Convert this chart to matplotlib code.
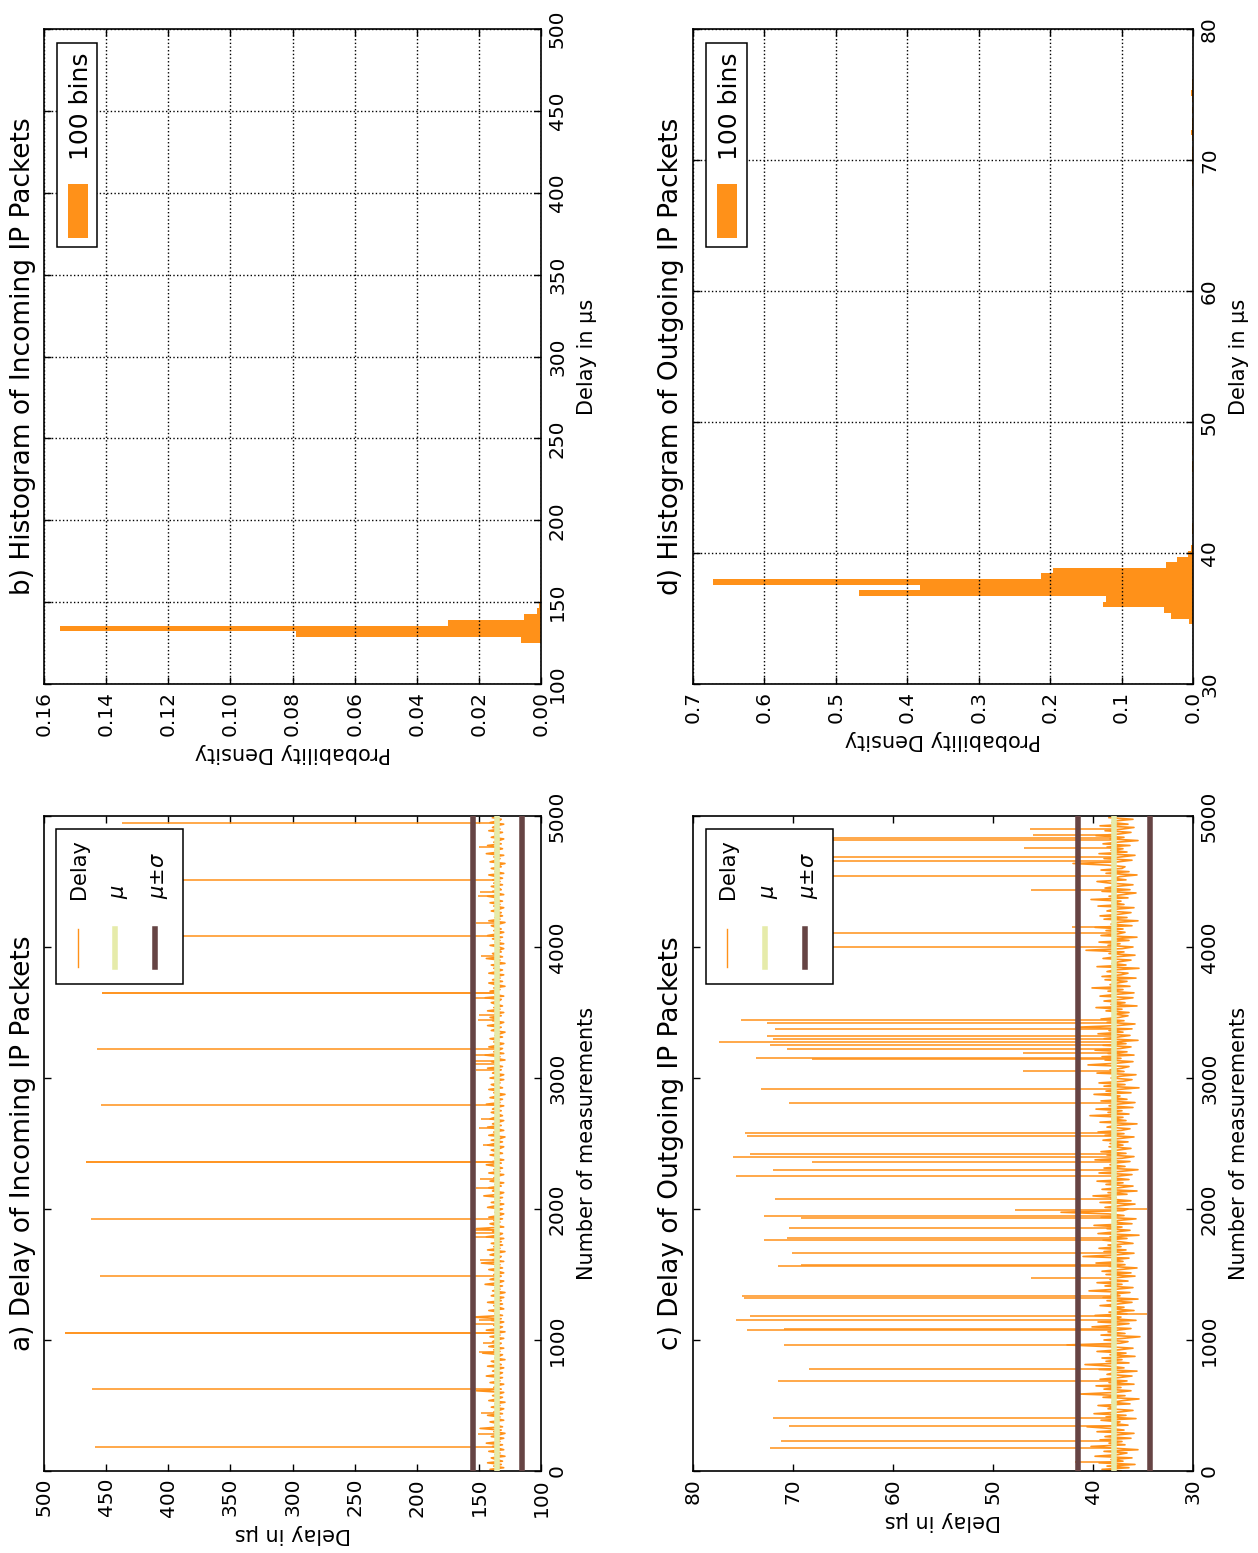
import numpy as np
import matplotlib
matplotlib.use('Agg')
import matplotlib.pyplot as plt
from matplotlib.patches import Rectangle
from matplotlib.lines import Line2D
from matplotlib.ticker import FormatStrFormatter

plt.rcParams['font.family'] = ['DejaVu Sans']

# ---------------- data ----------------
band_in = [
    134, 141, 130, 138, 132, 143, 131, 136, 140, 129, 137, 133, 142, 130, 135, 139, 131, 144, 133, 136,
    130, 140, 134, 129, 138, 132, 149, 131, 137, 135, 141, 130, 136, 133, 143, 131, 138, 134, 130, 140,
    133, 137, 129, 142, 135, 131, 139, 134, 130, 152, 132, 138, 136, 130, 141, 133, 137, 131, 144, 134,
    131, 139, 135, 130, 143, 132, 136, 140, 129, 137, 134, 131, 147, 133, 138, 130, 142, 135, 132, 139,
    136, 130, 141, 133, 137, 129, 144, 134, 131, 138, 135, 130, 140, 132, 155, 131, 137, 134, 142, 130,
    134, 138, 131, 143, 132, 136, 130, 140, 135, 129, 139, 133, 137, 131, 145, 134, 130, 141, 136, 132,
    138, 130, 135, 142, 131, 137, 133, 148, 130, 139, 134, 132, 141, 136, 129, 143, 133, 138, 131, 140,
    132, 137, 130, 144, 134, 131, 139, 135, 152, 130, 136, 141, 133, 138, 131, 142, 134, 130, 137, 135,
    131, 143, 136, 130, 140, 133, 137, 131, 146, 134, 130, 139, 135, 142, 132, 137, 130, 141, 134, 138,
    135, 130, 142, 133, 138, 131, 136, 144, 132, 139, 130, 137, 134, 141, 131, 136, 140, 133, 130, 143,
    137, 131, 140, 133, 129, 142, 135, 138, 130, 136, 143, 132, 139, 134, 130, 141, 137, 131, 135, 140,
    132, 139, 136, 130, 144, 133, 137, 131, 141, 135, 129, 138, 134, 142, 131, 136, 140, 133, 137, 130,
    141, 134, 130, 139, 136, 132, 143, 131, 137, 135, 140, 129, 136, 133, 145, 130, 138, 134, 131, 142,
    135, 130, 138, 134, 141, 131, 137, 133, 129, 140, 136, 132, 143, 134, 130, 139, 135, 141, 132, 137,
    130, 143, 133, 138, 131, 136, 140, 134, 132, 145, 130, 137, 135, 141, 133, 138, 129, 136, 142, 131,
    139, 133, 136, 130, 142, 135, 131, 138, 134, 140, 129, 137, 133, 144, 131, 136, 139, 132, 135, 130,
    134, 141, 130, 137, 133, 139, 131, 143, 135, 130, 138, 132, 136, 140, 134, 129, 142, 133, 137, 131,
    136, 132, 140, 134, 130, 138, 133, 141, 131, 137, 135, 143, 130, 136, 139, 132, 134, 140, 131, 138,
    133, 139, 131, 136, 142, 130, 137, 134, 140, 132, 135, 129, 141, 136, 133, 138, 130, 144, 134, 137,
    131, 136, 143, 132, 138, 134, 130, 140, 135, 137, 131, 142, 133, 139, 136, 130, 141, 134, 132, 139]

band_out = [
    37.2, 39.1, 36.4, 38.6, 35.8, 39.4, 37.0, 38.2, 36.1, 39.8, 37.5, 36.6, 38.9, 35.5, 38.1, 40.2, 36.8, 38.4, 37.1, 39.3,
    36.2, 38.8, 37.6, 35.9, 39.6, 36.9, 38.3, 40.6, 36.5, 38.0, 37.3, 39.2, 35.7, 38.7, 36.7, 39.9, 37.4, 36.0, 38.5, 37.8,
    39.5, 36.3, 38.1, 37.0, 35.4, 39.0, 36.8, 41.3, 37.7, 36.2, 38.9, 37.2, 39.7, 35.9, 38.4, 36.6, 39.3, 37.5, 36.1, 38.6,
    37.9, 35.6, 39.4, 36.9, 38.2, 40.8, 36.4, 38.7, 37.1, 39.1, 35.8, 38.3, 36.7, 39.6, 37.4, 36.0, 38.8, 42.6, 37.3, 36.5,
    38.9, 37.0, 35.3, 39.2, 36.8, 38.5, 37.6, 36.2, 40.1, 37.8, 36.4, 39.5, 35.7, 38.1, 37.2, 39.8, 36.6, 38.4, 35.9, 38.0,
    36.9, 39.3, 37.5, 36.1, 38.6, 35.5, 39.0, 37.3, 38.2, 36.3, 40.4, 37.7, 36.0, 38.8, 37.1, 39.6, 36.5, 38.3, 37.9, 35.8,
    38.7, 36.2, 39.1, 37.4, 35.6, 38.4, 36.8, 39.7, 37.0, 38.1, 36.4, 41.0, 37.6, 35.9, 38.9, 36.7, 39.4, 37.2, 38.5, 36.0,
    37.3, 39.0, 36.6, 38.3, 35.4, 39.5, 37.8, 36.3, 38.6, 37.1, 39.9, 36.1, 38.0, 37.5, 35.7, 39.2, 36.9, 38.4, 43.2, 37.0,
    36.5, 38.8, 37.3, 35.8, 39.3, 36.2, 38.2, 37.7, 40.0, 36.6, 38.5, 35.6, 39.1, 37.4, 36.0, 38.7, 37.0, 39.6, 36.4, 38.1,
    37.6, 36.1, 39.4, 37.2, 35.5, 38.9, 36.8, 38.3, 37.9, 36.3, 39.8, 37.1, 35.9, 38.6, 36.7, 39.2, 37.5, 36.2, 38.4, 37.0,
    38.3, 36.5, 39.0, 37.4, 35.9, 38.8, 36.9, 39.5, 37.2, 36.3, 38.6, 37.8, 35.6, 39.3, 36.7, 38.1, 37.0, 40.3, 36.4, 38.5,
    37.1, 39.7, 36.0, 38.4, 37.6, 35.8, 39.2, 36.6, 38.0, 37.3, 39.9, 36.2, 38.7, 37.5, 35.4, 38.9, 36.8, 39.4, 37.0, 36.1,
    38.2, 37.4, 35.7, 39.6, 36.9, 38.3, 37.1, 36.4, 40.5, 37.7, 36.0, 38.8, 37.2, 39.1, 35.9, 38.5, 36.6, 39.8, 37.3, 36.2,
    39.0, 36.7, 38.1, 35.5, 38.9, 37.5, 36.3, 39.5, 37.0, 38.4, 36.1, 41.7, 37.6, 35.8, 38.6, 36.9, 39.2, 37.4, 36.5, 38.0,
    36.4, 38.7, 37.1, 39.7, 35.6, 38.2, 36.8, 38.9, 37.3, 36.0, 39.3, 37.8, 35.9, 38.5, 37.0, 40.1, 36.3, 38.3, 37.6, 36.6,
    38.8, 35.7, 39.1, 37.2, 36.5, 38.6, 37.9, 35.4, 39.6, 36.7, 38.1, 37.4, 36.2, 39.0, 37.7, 35.8, 38.4, 36.9, 40.7, 37.1,
    36.0, 38.5, 37.3, 39.4, 36.4, 38.0, 35.6, 39.2, 37.5, 36.8, 38.7, 37.0, 39.8, 36.1, 38.2, 37.6, 35.5, 38.9, 36.6, 39.3,
    37.4, 36.2, 38.6, 37.9, 35.9, 39.5, 36.9, 38.1, 37.2, 40.2, 36.5, 38.4, 37.0, 35.7, 39.1, 36.3, 38.8, 37.7, 36.0, 38.3,
    39.6, 36.7, 38.0, 37.3, 35.6, 38.7, 36.4, 39.2, 37.1, 36.8, 38.5, 42.0, 37.5, 36.1, 38.9, 37.2, 35.8, 39.4, 36.6, 38.2,
    37.0, 38.6, 36.3, 39.0, 37.6, 35.5, 38.3, 36.9, 39.7, 37.4, 36.2, 38.8, 37.1, 35.9, 39.3, 36.5, 38.1, 37.8, 36.0, 38.4]

spike_in_idx = [183, 281, 440, 627, 905, 975, 1055, 1056, 1120, 1150, 1491, 1610, 1790, 1815, 1840,
                1927, 2160, 2230, 2355, 2356, 2490, 2620, 2690, 2791, 3060, 3105, 3130, 3175, 3219,
                3440, 3480, 3610, 3647, 3648, 3930, 4083, 4180, 4390, 4420, 4511, 4760, 4947]
spike_in_val = [459, 151, 148, 461, 150, 147, 483, 483, 153, 150, 455, 149, 154, 155, 153,
                462, 152, 149, 466, 466, 147, 150, 148, 454, 152, 155, 156, 153, 457,
                151, 150, 156, 453, 453, 148, 397, 152, 151, 149, 397, 150, 437]

spike_out_idx = [69, 174, 230, 344, 403, 686, 776, 964, 1079, 1086, 1151, 1181, 1200, 1321, 1339,
                 1474, 1566, 1575, 1666, 1760, 1778, 1855, 1928, 1949, 1989, 2000, 2076, 2250,
                 2296, 2357, 2398, 2419, 2561, 2581, 2806, 2918, 3056, 3142, 3152, 3194, 3219,
                 3255, 3275, 3295, 3321, 3372, 3423, 3443, 3997, 4106, 4152, 4435, 4545, 4660,
                 4690, 4754, 4813, 4831, 4856, 4897]
spike_out_val = [41.8, 72.3, 71.2, 70.4, 72.0, 71.5, 68.4, 70.9, 74.6, 70.9, 75.7, 74.3, 34.6, 74.9, 75.1,
                 46.2, 71.5, 69.2, 70.1, 72.9, 70.6, 70.4, 69.2, 72.9, 47.8, 34.6, 71.8, 75.7,
                 72.0, 68.1, 76.0, 74.3, 74.6, 74.8, 70.4, 73.2, 47.0, 68.1, 73.7, 47.0, 70.6,
                 72.3, 77.4, 72.0, 72.6, 71.8, 72.6, 75.2, 70.0, 71.0, 42.1, 46.2, 69.0, 70.5,
                 71.5, 46.9, 70.0, 71.0, 46.0, 46.3]

mu_in, sigma_in = 135.1, 19.5
mu_out, sigma_out = 37.9, 3.58

hist_in_width = 3.6
hist_in_left = [124.9, 128.5, 132.1, 135.7, 139.3, 142.9, 146.5, 150.1, 153.7, 157.3,
                395.5, 435.1, 453.1, 456.7, 460.3, 463.9, 481.9]
hist_in_dens = [0.0063, 0.0790, 0.1550, 0.0300, 0.0055, 0.0013, 0.0008, 0.0004, 0.0003, 0.0001,
                0.0001, 0.00006, 0.00011, 0.00006, 0.00011, 0.00006, 0.00011]

hist_out_width = 0.43
hist_out_left = [34.57, 35.00, 35.43, 35.86, 36.29, 36.72, 37.15, 37.58, 38.01, 38.44, 38.87, 39.30,
                 39.73, 40.16, 41.45, 41.88, 42.31, 45.75, 46.18, 46.61, 47.47,
                 68.01, 68.87, 69.73, 70.16, 70.59, 71.45, 71.88, 72.31, 72.74, 73.60, 74.46,
                 74.89, 75.32, 75.75, 77.04]
hist_out_dens = [0.006, 0.0315, 0.040, 0.1265, 0.1215, 0.4675, 0.3825, 0.6715, 0.2125, 0.196, 0.0375,
                 0.0225, 0.0075, 0.0035, 0.0014, 0.0009, 0.0005, 0.0005, 0.0019, 0.0009, 0.0009,
                 0.0009, 0.0005, 0.0009, 0.0014, 0.0019, 0.0019, 0.0023, 0.0014, 0.0019, 0.0009,
                 0.0019, 0.0023, 0.0019, 0.0014, 0.0005]

ORANGE = '#FF9119'
MU_C = '#E6EBAA'
SIG_C = '#664444'

# ---------------- figure (drawn already turned by 90 degrees) ----------------
W, H = 1258, 1553
fig = plt.figure(figsize=(W / 100, H / 100), dpi=100)


def place(x0, x1, ytop, ybot):
    return [x0 / W, 1 - ybot / H, (x1 - x0) / W, (ybot - ytop) / H]


ax_a = fig.add_axes(place(44, 541, 816, 1471))
ax_b = fig.add_axes(place(44, 541, 29, 684))
ax_c = fig.add_axes(place(693, 1193, 816, 1471))
ax_d = fig.add_axes(place(693, 1193, 29, 684))


def style(ax, xticks, yticks, xfmt=None):
    ax.set_xticks(xticks)
    ax.set_yticks(yticks)
    if xfmt:
        ax.xaxis.set_major_formatter(FormatStrFormatter(xfmt))
    ax.tick_params(which='both', direction='in', top=True, bottom=True, left=True, right=True,
                   labelleft=False, labelright=True, labelbottom=True, labeltop=False,
                   length=5, width=1, labelsize=14.5, pad=5)
    ax.tick_params(axis='both', labelrotation=90)
    plt.setp(ax.get_yticklabels(), va='center')
    for s in ax.spines.values():
        s.set_linewidth(1.2)
    ax.yaxis.set_label_position('right')


def title(ax, txt):
    ax.text(-0.017, 0.5, txt, transform=ax.transAxes, rotation=90, ha='right', va='center',
            fontsize=19)


def legend(ax, frame, handles, texts, fs):
    x0, y0, x1, y1 = frame
    ax.add_patch(Rectangle((x0, y0), x1 - x0, y1 - y0, transform=ax.transAxes, facecolor='white',
                           edgecolor='black', lw=1.1, zorder=20, clip_on=False))
    for h in handles:
        h.set_transform(ax.transAxes)
        h.set_zorder(21)
        h.set_clip_on(False)
        if isinstance(h, Line2D):
            ax.add_line(h)
        else:
            ax.add_patch(h)
    for x, y, s in texts:
        ax.text(x, y, s, transform=ax.transAxes, rotation=90, rotation_mode='anchor',
                ha='left', va='baseline', fontsize=fs, zorder=22)


def delay_panel(ax, band, sp_idx, sp_val, mu, sigma, xlim, xticks, ttl):
    idx = np.arange(len(band)) * (5000 / len(band))
    ax.plot(band, idx, color=ORANGE, lw=1.2, zorder=2)
    ax.hlines(sp_idx, mu, sp_val, color=ORANGE, lw=1.1, zorder=2)
    ax.axvline(mu, color=MU_C, lw=4, zorder=3)
    ax.axvline(mu + sigma, color=SIG_C, lw=4, zorder=3)
    ax.axvline(mu - sigma, color=SIG_C, lw=4, zorder=3)
    ax.set_xlim(*xlim)
    ax.set_ylim(0, 5000)
    style(ax, xticks, range(0, 5001, 1000))
    ax.set_xlabel('Delay in µs', rotation=180, fontsize=15, labelpad=5)
    ax.set_ylabel('Number of measurements', rotation=90, fontsize=15, labelpad=7)
    title(ax, ttl)
    legend(ax, (0.025, 0.7435, 0.279, 0.980),
           [Line2D([0.0678, 0.0678], [0.7695, 0.8275], color=ORANGE, lw=1),
            Line2D([0.1435, 0.1435], [0.7695, 0.8275], color=MU_C, lw=4),
            Line2D([0.2233, 0.2233], [0.7695, 0.8275], color=SIG_C, lw=4)],
           [(0.0825, 0.8733, 'Delay'), (0.161, 0.8733, r'$\mu$'), (0.2414, 0.8733, r'$\mu{\pm}\sigma$')],
           15)


def hist_panel(ax, left, dens, width, xlim, xticks, xfmt, ylim, yticks, ttl):
    ax.barh(left, dens, height=width, align='edge', color=ORANGE, edgecolor='none', zorder=2)
    ax.set_xlim(*xlim)
    ax.set_ylim(*ylim)
    style(ax, xticks, yticks, xfmt)
    ax.grid(True, color='black', linestyle=':', linewidth=1)
    ax.set_axisbelow(False)
    ax.set_xlabel('Probability Density', rotation=180, fontsize=15, labelpad=5)
    ax.set_ylabel('Delay in µs', rotation=90, fontsize=15, labelpad=7)
    title(ax, ttl)
    legend(ax, (0.0268, 0.6667, 0.1072, 0.9791),
           [Rectangle((0.0477, 0.6814), 0.0402, 0.082, facecolor=ORANGE, edgecolor='none')],
           [(0.0885, 0.80, '100 bins')], 18)


delay_panel(ax_a, band_in, spike_in_idx, spike_in_val, mu_in, sigma_in, (500, 100),
            range(100, 501, 50), 'a) Delay of Incoming IP Packets')
delay_panel(ax_c, band_out, spike_out_idx, spike_out_val, mu_out, sigma_out, (80, 30),
            range(30, 81, 10), 'c) Delay of Outgoing IP Packets')
hist_panel(ax_b, hist_in_left, hist_in_dens, hist_in_width, (0.16, 0.0),
           np.arange(0, 0.161, 0.02), '%.2f', (100, 500), range(100, 501, 50),
           'b) Histogram of Incoming IP Packets')
hist_panel(ax_d, hist_out_left, hist_out_dens, hist_out_width, (0.7, 0.0),
           np.arange(0, 0.71, 0.1), '%.1f', (30, 80), range(30, 81, 10),
           'd) Histogram of Outgoing IP Packets')

fig.savefig('out.png', dpi=100)
